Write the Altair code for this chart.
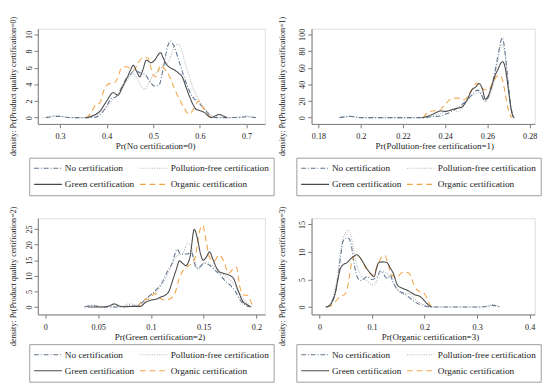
import altair as alt
import pandas as pd

SERIES = ["No certification", "Pollution-free certification",
          "Green certification", "Organic certification"]
COLORS = ["#5f7590", "#b3b3b3", "#4a4a4a", "#f2a447"]
DASHES = [[5, 2, 1, 2], [1, 1.5], [1, 0], [6, 4]]
DRAW_ORDER = [1, 0, 3, 2]
# legend fills column by column: this order gives rows (No, Pollution-free), (Green, Organic)
LEGEND_ORDER = [0, 2, 1, 3]

# ---------- panel 1: Pr(No certification=0)
nc0_x = [0.270, 0.285, 0.300, 0.315, 0.330, 0.360, 0.375, 0.385, 0.393, 0.400, 0.410, 0.420, 0.430, 0.441, 0.451, 0.461, 0.471, 0.482, 0.492, 0.502, 0.512, 0.522, 0.531, 0.537, 0.543, 0.553, 0.563, 0.573, 0.584, 0.594, 0.604, 0.614, 0.624, 0.635, 0.660, 0.690, 0.700, 0.720]
nc0_y = [0, 0.1, 0.15, 0.05, 0, 0, 0.05, 0.3, 0.8, 1.4, 2.3, 2.5, 3.4, 4.6, 5.2, 5.7, 5.4, 5.2, 4.4, 3.8, 3.9, 6.1, 8.6, 9.2, 8.75, 7.2, 5.4, 3.8, 2.5, 2.0, 1.4, 0.75, 0.15, 0, 0, 0.05, 0.1, 0]
pf0_x = [0.262, 0.275, 0.290, 0.300, 0.310, 0.320, 0.355, 0.370, 0.386, 0.397, 0.407, 0.417, 0.427, 0.437, 0.448, 0.458, 0.465, 0.475, 0.482, 0.488, 0.499, 0.509, 0.519, 0.529, 0.539, 0.546, 0.553, 0.560, 0.567, 0.577, 0.587, 0.597, 0.607, 0.618, 0.628, 0.638, 0.658, 0.685, 0.700, 0.713, 0.720]
pf0_y = [0, 0.1, 0.25, 0.2, 0.05, 0, 0, 0.15, 0.6, 1.0, 1.7, 2.4, 2.8, 3.8, 4.8, 5.3, 4.7, 3.7, 3.4, 3.9, 5.0, 5.5, 6.1, 6.5, 7.6, 8.7, 8.8, 8.3, 6.8, 5.0, 3.3, 2.2, 1.3, 0.6, 0.2, 0.1, 0, 0.05, 0.2, 0.05, 0]
gr0_x = [0.356, 0.369, 0.386, 0.400, 0.414, 0.424, 0.434, 0.444, 0.452, 0.457, 0.464, 0.471, 0.478, 0.485, 0.495, 0.503, 0.510, 0.516, 0.521, 0.526, 0.536, 0.543, 0.553, 0.563, 0.570, 0.578, 0.585, 0.592, 0.600, 0.610, 0.618, 0.624, 0.631, 0.641, 0.652, 0.658]
gr0_y = [0, 0.2, 0.8, 2.0, 3.0, 2.7, 3.7, 4.8, 5.8, 6.3, 5.6, 4.9, 5.8, 6.9, 6.6, 6.9, 7.5, 7.8, 7.2, 6.6, 6.0, 5.8, 5.4, 4.8, 3.7, 2.5, 1.6, 1.0, 0.85, 0.6, 0.2, 0, 0.15, 0.38, 0.15, 0]
or0_x = [0.356, 0.366, 0.376, 0.386, 0.393, 0.403, 0.417, 0.424, 0.432, 0.441, 0.451, 0.458, 0.468, 0.478, 0.488, 0.499, 0.505, 0.516, 0.525, 0.536, 0.546, 0.556, 0.566, 0.576, 0.584, 0.590, 0.597, 0.607, 0.617, 0.624, 0.631]
or0_y = [0, 0.5, 1.5, 1.8, 3.1, 4.0, 4.2, 4.8, 6.0, 6.1, 5.9, 5.7, 6.6, 7.2, 7.2, 5.2, 4.9, 6.3, 5.8, 4.8, 3.4, 2.2, 1.2, 0.45, 0.8, 1.4, 2.0, 1.2, 0.3, 0.1, 0]

# ---------- panel 2: Pr(Pollution-free certification=1)
nc1_x = [0.1900, 0.1925, 0.1950, 0.1975, 0.2000, 0.2300, 0.2330, 0.2360, 0.2380, 0.2400, 0.2420, 0.2440, 0.2460, 0.2480, 0.2500, 0.2525, 0.2555, 0.2570, 0.2588, 0.2605, 0.2620, 0.2635, 0.2650, 0.2660, 0.2670, 0.2680, 0.2695, 0.2710, 0.2725]
nc1_y = [0, 1, 1.5, 0.5, 0, 0, 1, 1.5, 2, 4, 6, 9, 12, 16, 20, 27, 33, 28, 20, 25, 38, 55, 75, 88, 96, 85, 50, 15, 0]
pf1_x = [0.1900, 0.1925, 0.1950, 0.1975, 0.2000, 0.2290, 0.2320, 0.2350, 0.2380, 0.2400, 0.2425, 0.2450, 0.2465, 0.2480, 0.2500, 0.2525, 0.2550, 0.2565, 0.2585, 0.2605, 0.2620, 0.2635, 0.2650, 0.2665, 0.2680, 0.2695, 0.2710, 0.2725]
pf1_y = [0, 0.8, 1.5, 0.8, 0, 0, 1, 3, 5, 7, 9, 8, 7, 12, 20, 26, 29, 31, 19, 24, 33, 48, 70, 88, 80, 45, 12, 0]
gr1_x = [0.2290, 0.2315, 0.2340, 0.2365, 0.2380, 0.2400, 0.2425, 0.2450, 0.2465, 0.2480, 0.2505, 0.2525, 0.2545, 0.2560, 0.2575, 0.2590, 0.2605, 0.2620, 0.2635, 0.2650, 0.2662, 0.2672, 0.2682, 0.2692, 0.2702, 0.2712, 0.2722, 0.2728]
gr1_y = [0, 1.5, 4, 7, 8, 7.5, 9, 11, 11.5, 13, 22, 33, 37, 41, 35, 22, 27, 38, 50, 58, 65, 67, 62, 47, 28, 10, 1, 0]
or1_x = [0.2295, 0.2317, 0.2340, 0.2370, 0.2390, 0.2415, 0.2430, 0.2455, 0.2480, 0.2490, 0.2520, 0.2550, 0.2580, 0.2603, 0.2625, 0.2648, 0.2663, 0.2678, 0.2693, 0.2708, 0.2716]
or1_y = [0, 6, 8, 8.3, 13, 20, 23, 23.4, 23, 21.5, 31, 41.5, 34, 33, 42, 50, 50, 37, 16, 2.6, 0]

# ---------- panel 3: Pr(Green certification=2)
nc2_x = [0.037, 0.045, 0.050, 0.060, 0.075, 0.080, 0.085, 0.090, 0.095, 0.100, 0.105, 0.110, 0.115, 0.120, 0.125, 0.128, 0.132, 0.135, 0.138, 0.140, 0.143, 0.147, 0.150, 0.155, 0.160, 0.165, 0.170, 0.175, 0.180, 0.185, 0.190, 0.193]
nc2_y = [0, 0.5, 0.1, 0, 0.1, 0.6, 0.2, 1.0, 2.5, 4, 5.5, 7.5, 11, 14, 18.5, 17, 17, 17, 18, 16, 12.5, 13, 14, 13.5, 12, 10.5, 8.5, 7, 5, 2, 0.5, 0]
pf2_x = [0.037, 0.045, 0.055, 0.070, 0.080, 0.090, 0.095, 0.100, 0.105, 0.110, 0.115, 0.120, 0.125, 0.130, 0.135, 0.138, 0.141, 0.145, 0.148, 0.152, 0.157, 0.162, 0.167, 0.172, 0.177, 0.182, 0.187, 0.192, 0.196]
pf2_y = [0, 0.6, 0.2, 0.1, 1.0, 0.5, 2, 4, 5, 7, 10, 13.5, 16.5, 17, 20.5, 19.5, 15.5, 12, 13.5, 14.5, 13.5, 12.5, 11, 9.5, 8, 5.5, 3, 1, 0]
gr2_x = [0.040, 0.055, 0.060, 0.0655, 0.070, 0.075, 0.085, 0.090, 0.095, 0.100, 0.105, 0.110, 0.1135, 0.117, 0.121, 0.124, 0.127, 0.130, 0.133, 0.137, 0.1411, 0.144, 0.147, 0.1495, 0.1525, 0.1556, 0.1585, 0.1615, 0.1646, 0.169, 0.1736, 0.178, 0.1826, 0.187, 0.191, 0.1946]
gr2_y = [0, 0, 0.3, 1.0, 0.3, 0.1, 0.2, 0.2, 1.5, 2.2, 2.5, 3.3, 3.8, 5.0, 9.0, 12.0, 14.8, 14.0, 13.3, 16.0, 24.9, 22.0, 17.0, 15.0, 16.0, 17.7, 15.5, 13.0, 11.3, 10.8, 10.3, 9.3, 5.3, 1.8, 0.8, 0]
or2_x = [0.088, 0.0925, 0.0985, 0.100, 0.1045, 0.108, 0.112, 0.116, 0.1225, 0.127, 0.1315, 0.136, 0.142, 0.145, 0.149, 0.1526, 0.1556, 0.160, 0.1646, 0.169, 0.1736, 0.178, 0.181, 0.184, 0.1886, 0.1916, 0.1946, 0.197]
or2_y = [0, 2.3, 2.6, 3.3, 4.3, 3.0, 2.3, 2.3, 4.3, 9.3, 12.3, 13.3, 15.8, 22.7, 26.2, 20.7, 15.8, 14.8, 16.7, 14.8, 10.8, 12.3, 12.8, 6.8, 3.8, 3.8, 1.8, 0]

# ---------- panel 4: Pr(Organic certification=3)
nc3_x = [0.012, 0.020, 0.025, 0.030, 0.035, 0.040, 0.045, 0.050, 0.055, 0.060, 0.065, 0.070, 0.075, 0.080, 0.085, 0.090, 0.100, 0.110, 0.115, 0.120, 0.125, 0.130, 0.135, 0.140, 0.150, 0.160, 0.170, 0.180, 0.190, 0.200, 0.210, 0.300, 0.320, 0.330, 0.340, 0.345]
nc3_y = [0, 0.3, 1, 2.5, 5, 9, 12, 12.5, 12.5, 11.5, 8.5, 6, 5, 4.8, 5.2, 5.5, 5, 5.5, 6.5, 6.3, 5.5, 5.2, 5.8, 4.5, 3, 2.5, 1.8, 1, 0.5, 0.2, 0, 0, 0.1, 0.3, 0.1, 0]
pf3_x = [0.015, 0.025, 0.030, 0.035, 0.040, 0.045, 0.050, 0.056, 0.060, 0.065, 0.070, 0.075, 0.080, 0.090, 0.100, 0.105, 0.110, 0.115, 0.120, 0.125, 0.130, 0.140, 0.150, 0.160, 0.170, 0.180, 0.190, 0.200, 0.210, 0.220, 0.300, 0.320, 0.330, 0.340, 0.345]
pf3_y = [0, 1.5, 3.5, 6, 10, 12.5, 13.5, 14, 13, 10.5, 8, 6.5, 5.5, 4.8, 4, 4, 5, 6, 6.5, 6.3, 6, 4.5, 3, 2.3, 2.5, 1.5, 0.8, 0.4, 0.1, 0, 0, 0.2, 0.5, 0.2, 0]
gr3_x = [0.012, 0.020, 0.025, 0.030, 0.035, 0.040, 0.044, 0.053, 0.060, 0.065, 0.071, 0.077, 0.083, 0.090, 0.098, 0.104, 0.108, 0.113, 0.120, 0.128, 0.134, 0.140, 0.149, 0.158, 0.167, 0.175, 0.182, 0.190, 0.200, 0.207, 0.213]
gr3_y = [0, 0.3, 1.2, 2.5, 5, 7, 7.6, 8.1, 8.8, 9.2, 9.5, 9.0, 8.1, 7.0, 6.0, 5.5, 6.8, 8.1, 8.2, 8.1, 7.2, 6.2, 3.9, 3.4, 3.05, 2.6, 2.2, 2.0, 1.1, 0.4, 0]
or3_x = [0.015, 0.025, 0.035, 0.040, 0.047, 0.052, 0.056, 0.060, 0.065, 0.071, 0.077, 0.083, 0.090, 0.095, 0.100, 0.105, 0.110, 0.115, 0.120, 0.125, 0.130, 0.135, 0.140, 0.146, 0.152, 0.158, 0.164, 0.170, 0.175, 0.180, 0.185, 0.190, 0.200, 0.207, 0.213]
or3_y = [0, 0.4, 1.5, 2.0, 2.2, 3.0, 5, 7.5, 9.0, 9.5, 9.0, 8.0, 6.8, 6.2, 5.8, 6.3, 7.5, 8.5, 9.3, 9.3, 8.0, 6.3, 5.6, 5.3, 5.8, 6.3, 6.3, 6.2, 5.3, 4.0, 3.2, 2.8, 2.4, 1.0, 0]

# axis ticks, domains, titles
x_ticks = [[0.3, 0.4, 0.5, 0.6, 0.7],
           [0.18, 0.2, 0.22, 0.24, 0.26, 0.28],
           [0, 0.05, 0.1, 0.15, 0.2],
           [0, 0.1, 0.2, 0.3, 0.4]]
y_ticks = [[0, 2, 4, 6, 8, 10],
           [0, 20, 40, 60, 80, 100],
           [0, 5, 10, 15, 20, 25],
           [0, 5, 10, 15]]
x_domains = [[0.2524, 0.7394], [0.1767, 0.2824], [-0.0072, 0.208], [-0.015, 0.4096]]
y_domains = [[-0.76, 10.68], [-7.6, 106.8], [-2.39, 28.47], [-1.35, 16.12]]
x_titles = ["Pr(No certification=0)", "Pr(Pollution-free certification=1)",
            "Pr(Green certification=2)", "Pr(Organic certification=3)"]
y_titles = ["density: Pr(Product quality certification=%d)" % i for i in range(4)]

panel_series = [
    [(nc0_x, nc0_y), (pf0_x, pf0_y), (gr0_x, gr0_y), (or0_x, or0_y)],
    [(nc1_x, nc1_y), (pf1_x, pf1_y), (gr1_x, gr1_y), (or1_x, or1_y)],
    [(nc2_x, nc2_y), (pf2_x, pf2_y), (gr2_x, gr2_y), (or2_x, or2_y)],
    [(nc3_x, nc3_y), (pf3_x, pf3_y), (gr3_x, gr3_y), (or3_x, or3_y)],
]

# layout (pixels)
LAYOUT = [
    dict(w=236, h=99, xtx=122.0, xty=22.3, ytx=-25.9, yty=59.5, lgx=-8.9, lgy=134.1),
    dict(w=232, h=99, xtx=127.5, xty=22.3, ytx=-31.1, yty=59.5, lgx=-15.8, lgy=134.1),
    dict(w=236, h=100, xtx=126.5, xty=22.6, ytx=-25.9, yty=59.8, lgx=-8.9, lgy=130.9),
    dict(w=232, h=100, xtx=123.0, xty=22.6, ytx=-31.1, yty=59.8, lgx=-15.8, lgy=130.9),
]

FONT = "Liberation Serif"
TXT = "#222222"
AX = "#7a7a7a"

LEG_DOMAIN = [SERIES[k] for k in LEGEND_ORDER]
LEG_COLORS = [COLORS[k] for k in LEGEND_ORDER]
LEG_DASHES = [DASHES[k] for k in LEGEND_ORDER]


def make_panel(i):
    rows = []
    for k in DRAW_ORDER:
        xs, ys = panel_series[i][k]
        for xv, yv in zip(xs, ys):
            rows.append({"x": xv, "y": yv, "series": SERIES[k]})
    df = pd.DataFrame(rows)
    L = LAYOUT[i]
    legend = alt.Legend(
        title=None, orient="none", legendX=L["lgx"], legendY=L["lgy"],
        columns=2, symbolType="stroke", symbolSize=841, symbolStrokeWidth=1.1,
        clipHeight=14, rowPadding=2.7, columnPadding=4, labelOffset=2,
        padding=4, strokeColor="#9a9a9a", fillColor="white",
        labelFont=FONT, labelFontSize=9.6, labelColor=TXT, labelLimit=300,
    )
    return alt.Chart(df).mark_line(interpolate="monotone", strokeWidth=1.1, clip=True).encode(
        x=alt.X("x:Q",
                scale=alt.Scale(domain=x_domains[i], nice=False, zero=False),
                axis=alt.Axis(values=x_ticks[i], format=".3~f", title=x_titles[i],
                              grid=False, tickSize=4, labelPadding=4.6,
                              labelBaseline="top", labelFlush=False, labelOverlap=False,
                              labelFont=FONT, labelFontSize=8.5, labelColor=TXT,
                              titleFont=FONT, titleFontSize=9.3, titleFontWeight="normal",
                              titleColor=TXT, titleX=L["xtx"], titleY=L["xty"],
                              titleBaseline="middle", titleAlign="center",
                              domainColor=AX, tickColor=AX)),
        y=alt.Y("y:Q",
                scale=alt.Scale(domain=y_domains[i], nice=False, zero=False),
                axis=alt.Axis(values=y_ticks[i], format="d", title=y_titles[i],
                              grid=False, tickSize=4, labelPadding=3,
                              labelAngle=270, labelAlign="center", labelBaseline="alphabetic",
                              labelFlush=False, labelOverlap=False,
                              labelFont=FONT, labelFontSize=8.5, labelColor=TXT,
                              titleFont=FONT, titleFontSize=8.4, titleFontWeight="normal",
                              titleColor=TXT, titleAngle=270, titleX=L["ytx"], titleY=L["yty"],
                              titleBaseline="middle", titleAlign="center",
                              domainColor=AX, tickColor=AX)),
        color=alt.Color("series:N", scale=alt.Scale(domain=LEG_DOMAIN, range=LEG_COLORS), legend=legend),
        strokeDash=alt.StrokeDash("series:N", scale=alt.Scale(domain=LEG_DOMAIN, range=LEG_DASHES), legend=legend),
    ).properties(width=L["w"], height=L["h"])


def row(a, b):
    return alt.hconcat(make_panel(a), make_panel(b), spacing=1.5).resolve_scale(
        color="independent", strokeDash="independent", x="independent", y="independent")


chart = alt.vconcat(row(0, 1), row(2, 3), spacing=9).resolve_scale(
    color="independent", strokeDash="independent", x="independent", y="independent"
).properties(padding=0).configure_view(stroke="transparent").configure(background="white")

chart.save("out.html", embed_options={"renderer": "svg", "actions": False})
